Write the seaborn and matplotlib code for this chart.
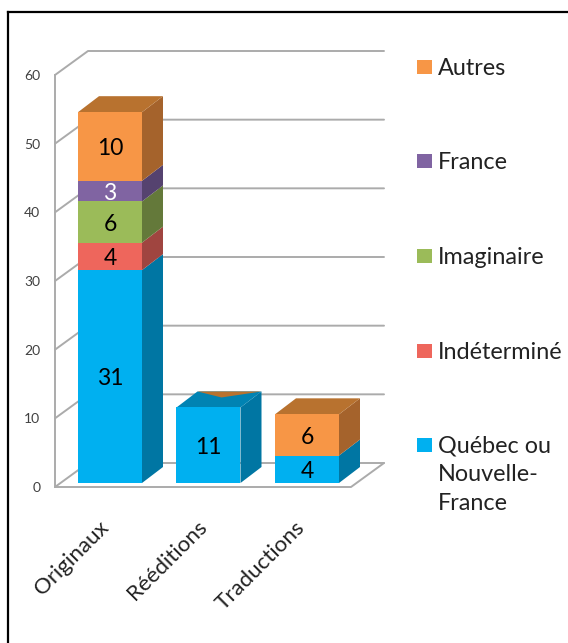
import matplotlib
matplotlib.use("Agg")
import matplotlib.pyplot as plt
import seaborn as sns
from matplotlib.lines import Line2D
from matplotlib.patches import Polygon, Rectangle

categories = ["Originaux", "Rééditions", "Traductions"]
series_names = ["Québec ou\nNouvelle-\nFrance", "Indéterminé", "Imaginaire", "France", "Autres"]
quebec = [31, 11, 4]
indetermine = [4, 0, 0]
imaginaire = [6, 0, 0]
france = [3, 0, 0]
autres = [10, 0, 6]
series_values = [quebec, indetermine, imaginaire, france, autres]
y_ticks = [0, 10, 20, 30, 40, 50, 60]

front_colors = ["#00B0F0", "#EE665C", "#9BBB59", "#8064A2", "#F79646"]
side_colors = ["#0076A3", "#A04540", "#64793A", "#55426F", "#A5632C"]
top_colors = ["#0083B3", "#B0504A", "#708842", "#5F4A7A", "#B8722F"]
text_colors = ["black", "black", "black", "white", "black"]

W, H = 568, 643
sns.set_theme(style="white")
plt.rcParams["font.family"] = ["Lato", "DejaVu Sans"]

fig = plt.figure(figsize=(W / 100, H / 100), dpi=100)


def px_axes(left, right, top, bottom):
    return fig.add_axes([left / W, 1 - bottom / H, (right - left) / W, (bottom - top) / H])


# two layers: the wall and floor, and the bars that stand slightly inside the floor
CAT_PX = 98.5
UNIT_PX = 6.867
ax_wall = px_axes(55, 351, 75, 487)
ax_wall.set_xlim(55, 351)
ax_wall.set_ylim(0, 60)
ax_wall.patch.set_visible(False)
for s in ["top", "right", "bottom"]:
    ax_wall.spines[s].set_visible(False)
ax_wall.spines["left"].set_color("#ABABAB")
ax_wall.spines["left"].set_linewidth(1.4)
ax_wall.set_xticks([])
ax_wall.set_yticks(y_ticks)
ax_wall.tick_params(axis="y", length=0, pad=10.5, labelsize=10, labelcolor="#404040")

WALL_DX = 33
WALL_DY = 24 / UNIT_PX
grid = dict(color="#ABABAB", lw=1.4, clip_on=False, solid_capstyle="round")
for v in y_ticks:
    ax_wall.plot([55, 55 + WALL_DX, 351 + WALL_DX], [v, v + WALL_DY, v + WALL_DY], **grid)
ax_wall.plot([55, 351, 351 + WALL_DX], [0, 0, WALL_DY], **grid)

ax_bars = px_axes(110 - CAT_PX / 2, 110 + 2.5 * CAT_PX, 71, 483)
ax_bars.set_ylim(0, (483 - 71) / UNIT_PX)
ax_bars.patch.set_visible(False)

BAR_W = 64 / CAT_PX
DX = 21 / CAT_PX
DY = 16 / UNIT_PX
totals = [sum(t) for t in zip(*series_values)]
bottoms = [0, 0, 0]
for name, vals, front, side, top, tc in zip(series_names, series_values, front_colors,
                                            side_colors, top_colors, text_colors):
    sns.barplot(x=categories, y=vals, bottom=bottoms, color=front, saturation=1,
                width=BAR_W, ax=ax_bars, zorder=3, order=categories, linewidth=0)
    for i, v in enumerate(vals):
        if v == 0:
            continue
        xl, xr = i - BAR_W / 2, i + BAR_W / 2
        b = bottoms[i]
        ax_bars.add_patch(Polygon([(xr, b), (xr + DX, b + DY), (xr + DX, b + v + DY), (xr, b + v)],
                                  fc=side, ec="none", zorder=2, clip_on=False))
        # only the top segment of a stack shows its upper face
        if b + v == totals[i]:
            ax_bars.add_patch(Polygon([(xl, b + v), (xr, b + v), (xr + DX, b + v + DY), (xl + DX, b + v + DY)],
                                      fc=top, ec="none", zorder=2.5, clip_on=False))
        ax_bars.text(i, b + v / 2 - 0.35, str(v), ha="center", va="center", fontsize=16.5,
                     color=tc, zorder=5)
    bottoms = [b + v for b, v in zip(bottoms, vals)]

# the empty Autres segment of Rééditions still shows a sliver on top of the bar
ax_bars.add_patch(Polygon([(1 - BAR_W / 2 + DX, 11 + DY), (1 + BAR_W / 2 + DX, 11 + DY),
                           (1 - BAR_W / 2 + 45 / CAT_PX, 11 + 10 / UNIT_PX)],
                          fc=top_colors[4], ec="none", zorder=2.6, clip_on=False))

ax_bars.set_xlim(-0.5, 2.5)
ax_bars.axis("off")

for i, cat in enumerate(categories):
    ax_bars.annotate(cat, (i, 0), xytext=(-12, -34), textcoords="offset pixels", rotation=45,
                     rotation_mode="anchor", ha="right", va="top", fontsize=16, color="#222222",
                     annotation_clip=False)

# legend, hand placed because the marker sits on the first line of the long label
legend_y = [445, 351, 256, 161, 67]
for name, color, y in zip(series_names, front_colors, legend_y):
    fig.add_artist(Rectangle((417 / W, 1 - (y + 7) / H), 14.5 / W, 14 / H, fc=color, ec="none",
                             transform=fig.transFigure))
    fig.text(438 / W, 1 - (y - 9) / H, name, ha="left", va="top", fontsize=16.8,
             color="#222222", linespacing=1.43)

# frame of the original slide: only left and top edges are inside the crop
frame = dict(color="black", lw=1.6, transform=fig.transFigure, solid_capstyle="projecting")
fig.add_artist(Line2D([8 / W, 8 / W], [0, 1 - 12 / H], **frame))
fig.add_artist(Line2D([8 / W, 1], [1 - 12 / H, 1 - 12 / H], **frame))

fig.savefig("out.png", dpi=100)
